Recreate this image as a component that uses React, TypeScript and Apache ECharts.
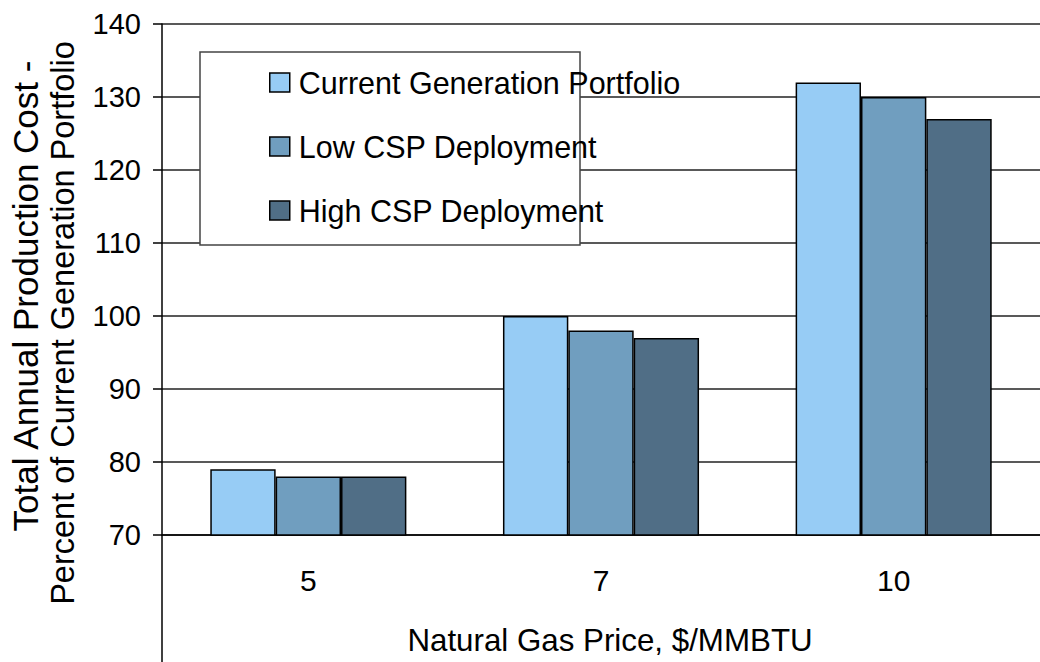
import React, { useEffect, useRef } from "react";
import * as echarts from "echarts";

const categories = ["5", "7", "10"];
const currentGen = [79, 100, 132];
const lowCSP = [78, 98, 130];
const highCSP = [78, 97, 127];
const seriesNames = ["Current Generation Portfolio", "Low CSP Deployment", "High CSP Deployment"];
const colors = ["#97CCF5", "#709EBF", "#506E86"];
const yTitle = ["Total Annual Production Cost -", "Percent of Current Generation Portfolio"];
const xTitle = "Natural Gas Price, $/MMBTU";

export default function App() {
  const ref = useRef<HTMLDivElement>(null);
  useEffect(() => {
    if (!ref.current) return;
    const chart = echarts.init(ref.current, undefined, { renderer: "svg" });
    const font = "Liberation Sans, Arial, sans-serif";
    const data = [currentGen, lowCSP, highCSP];
    chart.setOption({
      animation: false,
      backgroundColor: "#ffffff",
      textStyle: { fontFamily: font },
      grid: { left: 162, top: 24, width: 888, height: 511, containLabel: false },
      legend: {
        orient: "vertical",
        left: 264,
        top: 62,
        z: 20,
        itemWidth: 20,
        itemHeight: 19,
        itemGap: 33,
        icon: "rect",
        textStyle: { fontSize: 30.5, color: "#000", fontFamily: font, lineHeight: 30, padding: [0, 0, 0, 4] },
        itemStyle: { borderColor: "#000", borderWidth: 1.5 },
        data: seriesNames,
      },
      xAxis: {
        type: "category",
        data: categories,
        axisLine: { lineStyle: { color: "#000", width: 1.5 } },
        axisTick: { length: 65, lineStyle: { color: "#555", width: 1.5 } },
        axisLabel: { fontSize: 30, color: "#000", margin: 30, fontFamily: font },
      },
      yAxis: {
        type: "value",
        min: 70,
        max: 140,
        interval: 10,
        axisLine: { show: true, lineStyle: { color: "#000", width: 1.5 } },
        axisTick: { show: true, length: 9, lineStyle: { color: "#000", width: 1.5 } },
        axisLabel: { fontSize: 29, color: "#000", margin: 21, fontFamily: font },
        splitLine: { show: true, lineStyle: { color: "#222", width: 1.5 } },
      },
      graphic: [
        {
          type: "line",
          shape: { x1: 162, y1: 535, x2: 162, y2: 662 },
          style: { stroke: "#000", lineWidth: 1.5 },
        },
        {
          type: "rect",
          shape: { x: 200, y: 52, width: 380, height: 193 },
          style: { fill: "#fff", stroke: "#444", lineWidth: 1.5 },
          z: 10,
        },
        {
          type: "text",
          x: 25,
          y: 296,
          rotation: Math.PI / 2,
          style: { text: yTitle[0], fontSize: 35, fill: "#000", align: "center", verticalAlign: "middle", fontFamily: font },
        },
        {
          type: "text",
          x: 63,
          y: 323,
          rotation: Math.PI / 2,
          style: { text: yTitle[1], fontSize: 32.5, fill: "#000", align: "center", verticalAlign: "middle", fontFamily: font },
        },
        {
          type: "text",
          x: 610,
          y: 640,
          style: { text: xTitle, fontSize: 31.3, fill: "#000", align: "center", verticalAlign: "middle", fontFamily: font },
        },
      ],
      series: seriesNames.map((name, i) => ({
        name,
        type: "bar",
        data: data[i],
        barGap: "0%",
        barCategoryGap: "33%",
        itemStyle: { color: colors[i], borderColor: "#000", borderWidth: 1.5 },
        z: 3,
      })),
    });
    return () => chart.dispose();
  }, []);
  return (
    <div
      ref={ref}
      style={{ position: "fixed", left: 0, top: 0, width: 1040, height: 662, background: "#fff" }}
    />
  );
}
